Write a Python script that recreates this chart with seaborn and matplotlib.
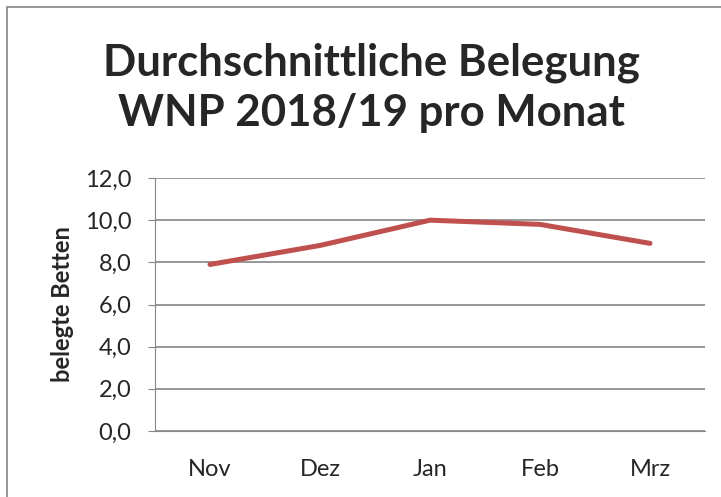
import numpy as np
import matplotlib.pyplot as plt
import seaborn as sns
import pandas as pd
from matplotlib.patches import Rectangle

# -----------------------------
# Data
# -----------------------------
monate = ["Nov", "Dez", "Jan", "Feb", "Mrz"]
belegung = [7.9, 8.8, 10.0, 9.8, 8.9]

df = pd.DataFrame({"Monat": monate, "Belegung": belegung})

# -----------------------------
# Plot
# -----------------------------
sns.set_style("white")
plt.rcParams['font.family'] = ['Lato', 'DejaVu Sans']

fig = plt.figure(figsize=(7.21, 4.97), dpi=100)
ax = fig.add_axes([155/721, 1 - 431/497, 550/721, 253/497])

sns.lineplot(data=df, x="Monat", y="Belegung", color="#C0504D",
             linewidth=3.6, sort=False, ax=ax)

ax.set_xlim(-0.5, 4.5)
ax.set_ylim(0, 12)
ax.set_yticks(np.arange(0, 13, 2))
ax.set_yticklabels([f"{v:.1f}".replace(".", ",") for v in np.arange(0, 13, 2)])
ax.yaxis.grid(True, color="#868686", linewidth=1.2)
ax.set_axisbelow(True)

for s in ["top", "right"]:
    ax.spines[s].set_visible(False)
ax.spines["left"].set_color("#868686")
ax.spines["bottom"].set_color("#868686")
ax.tick_params(axis="y", length=5, color="#868686", labelsize=17, pad=12, left=True)
ax.tick_params(axis="x", length=0, labelsize=17, pad=20)

ax.set_xlabel("")
ax.set_ylabel("belegte Betten", fontsize=17, fontweight="bold", labelpad=8)

fig.text(0.515, 0.823, "Durchschnittliche Belegung\nWNP 2018/19 pro Monat",
         ha="center", va="center", fontsize=31.5, fontweight="bold",
         linespacing=1.3)

# outer chart border
fig.patches.append(Rectangle((7/721, -0.05), 2, 1.0 - 7/497 + 0.05,
                             transform=fig.transFigure, fill=False,
                             edgecolor="#868686", linewidth=1.2))

fig.savefig("out.png", dpi=100)
